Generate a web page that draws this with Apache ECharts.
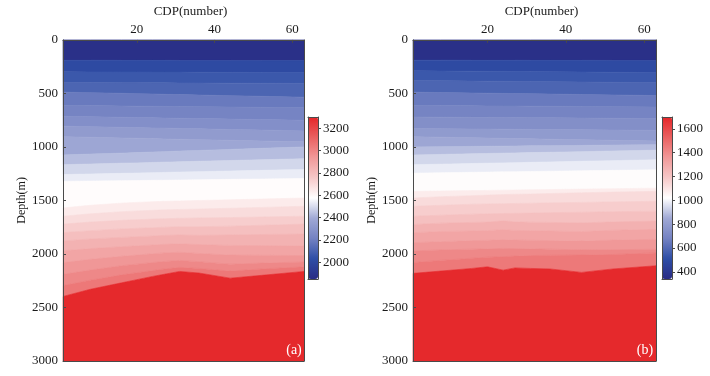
<!DOCTYPE html>
<html>
<head>
<meta charset="utf-8">
<script src="https://cdn.jsdelivr.net/npm/echarts@6/dist/echarts.min.js"></script>
<style>
html,body{margin:0;padding:0;background:#fff}
#main{width:710px;height:376px}
</style>
</head>
<body>
<div id="main"></div>
<script>
// CDP control points where band boundaries are read
var cdp = [1, 8, 16, 20, 24, 27, 31, 36, 44, 52, 63];
var xTicks = [20, 40, 60];
var cbTicksA = [2000, 2200, 2400, 2600, 2800, 3000, 3200];
var cbTicksB = [400, 600, 800, 1000, 1200, 1400, 1600];
var rangeA = [1850, 3300];
var rangeB = [340, 1700];

// band values, shallow -> deep
var valuesA = [1870, 2010, 2065, 2110, 2185, 2220, 2275, 2330, 2380, 2435, 2490, 2535, 2585,
               2640, 2690, 2740, 2790, 2840, 2890, 2940, 2990, 3040, 3290];
var valuesB = [360, 490, 542, 584, 654, 687, 738, 790, 837, 889, 940, 982, 1030,
               1080, 1130, 1175, 1220, 1270, 1315, 1360, 1410, 1455, 1690];

// boundary depths (m) between bands, at each cdp control point
var boundsA = [
  [190, 190, 191, 191, 191, 191, 192, 192, 192, 193, 193],
  [298, 299, 300, 300, 301, 301, 301, 302, 303, 304, 305],
  [398, 399, 400, 400, 401, 401, 402, 403, 404, 405, 406],
  [488, 493, 499, 502, 505, 508, 511, 515, 521, 527, 535],
  [612, 614, 617, 619, 620, 621, 623, 624, 627, 630, 634],
  [714, 718, 723, 725, 728, 730, 732, 735, 740, 744, 751],
  [806, 811, 817, 819, 822, 824, 827, 831, 837, 842, 850],
  [905, 910, 916, 919, 922, 925, 928, 932, 938, 944, 952],
  [1075, 1067, 1058, 1053, 1048, 1044, 1039, 1033, 1023, 1013, 1000],
  [1166, 1160, 1152, 1149, 1145, 1142, 1139, 1134, 1127, 1120, 1110],
  [1258, 1253, 1247, 1244, 1241, 1238, 1235, 1231, 1225, 1219, 1211],
  [1322, 1319, 1315, 1314, 1312, 1311, 1309, 1307, 1303, 1300, 1295],
  [1570, 1545, 1525, 1518, 1512, 1508, 1505, 1500, 1494, 1487, 1477],
  [1647, 1625, 1605, 1598, 1592, 1588, 1584, 1580, 1573, 1565, 1554],
  [1721, 1702, 1686, 1680, 1674, 1670, 1667, 1663, 1660, 1654, 1647],
  [1800, 1782, 1766, 1760, 1755, 1750, 1745, 1745, 1740, 1732, 1721],
  [1878, 1860, 1845, 1838, 1832, 1826, 1822, 1826, 1822, 1818, 1814],
  [1970, 1950, 1932, 1924, 1916, 1910, 1905, 1912, 1920, 1922, 1924],
  [2080, 2050, 2022, 2010, 1998, 1990, 1984, 1995, 2010, 2012, 2015],
  [2190, 2150, 2110, 2095, 2080, 2070, 2060, 2072, 2095, 2085, 2075],
  [2295, 2245, 2195, 2175, 2155, 2140, 2125, 2135, 2160, 2140, 2120],
  [2397, 2330, 2270, 2240, 2210, 2190, 2163, 2178, 2226, 2200, 2163]
];
var boundsB = [
  [189, 189, 190, 190, 190, 190, 191, 191, 191, 192, 192],
  [288, 290, 292, 293, 294, 295, 296, 297, 299, 302, 305],
  [380, 382, 385, 386, 387, 388, 389, 391, 393, 396, 399],
  [488, 492, 496, 498, 500, 501, 503, 506, 510, 514, 520],
  [612, 614, 616, 617, 618, 618, 619, 620, 622, 624, 627],
  [720, 722, 724, 724, 725, 726, 727, 728, 730, 732, 735],
  [828, 830, 832, 833, 834, 835, 836, 838, 840, 842, 845],
  [905, 909, 914, 917, 920, 922, 924, 928, 933, 938, 945],
  [1000, 998, 995, 994, 993, 992, 990, 989, 986, 983, 980],
  [1075, 1070, 1064, 1061, 1058, 1056, 1053, 1050, 1044, 1038, 1030],
  [1166, 1161, 1155, 1152, 1149, 1147, 1144, 1140, 1134, 1128, 1120],
  [1245, 1241, 1237, 1235, 1233, 1232, 1230, 1227, 1223, 1219, 1214],
  [1415, 1412, 1408, 1406, 1404, 1402, 1400, 1398, 1394, 1390, 1385],
  [1477, 1465, 1455, 1450, 1445, 1442, 1440, 1435, 1428, 1422, 1415],
  [1554, 1545, 1535, 1532, 1530, 1528, 1526, 1522, 1518, 1513, 1508],
  [1647, 1638, 1628, 1625, 1622, 1620, 1618, 1614, 1610, 1605, 1600],
  [1724, 1712, 1705, 1702, 1690, 1700, 1703, 1705, 1710, 1700, 1693],
  [1801, 1790, 1785, 1782, 1772, 1780, 1782, 1785, 1790, 1778, 1770],
  [1894, 1885, 1875, 1872, 1866, 1870, 1872, 1875, 1880, 1870, 1863],
  [1971, 1962, 1955, 1952, 1948, 1950, 1952, 1955, 1962, 1960, 1956],
  [2080, 2060, 2040, 2030, 2025, 2020, 2015, 2012, 2010, 2005, 1990],
  [2181, 2160, 2135, 2120, 2151, 2130, 2135, 2140, 2172, 2140, 2110]
];

var cmap = ['#2a2c84', '#2e4ea6', '#7482c2', '#a0a9d5', '#ffffff',
            '#f6c8c8', '#f09898', '#ea6060', '#e52629'];

var font = 'Liberation Serif';
var txt = '#1a1a1a';
var frame = '#4a4a4a';
var plain = function (v) { return String(v); };

var bandSeries = function (values, bounds, idx) {
  return {
    type: 'custom',
    coordinateSystem: 'cartesian2d',
    xAxisIndex: idx,
    yAxisIndex: idx,
    encode: {x: 0, y: 1},
    silent: true,
    z: 2,
    data: values.map(function (v, i) { return [i, v]; }),
    renderItem: function (params, api) {
      var i = api.value(0);
      var top = i === 0 ? null : bounds[i - 1];
      var bot = i === bounds.length ? null : bounds[i];
      var pts = [];
      for (var k = 0; k < cdp.length; k++) {
        pts.push(api.coord([cdp[k], top ? top[k] : 0]));
      }
      for (var k = cdp.length - 1; k >= 0; k--) {
        pts.push(api.coord([cdp[k], bot ? bot[k] : 3000]));
      }
      var c = api.visual('color');
      return {type: 'polygon', shape: {points: pts}, style: {fill: c, stroke: c, lineWidth: 0.6}};
    }
  };
};

var lineOnly = function (pos, gridIdx, extra) {
  var o = {
    type: 'value', gridIndex: gridIdx, position: pos, z: 10,
    min: 0, max: 1,
    axisLine: {show: true, onZero: false, lineStyle: {color: frame, width: 1}},
    axisTick: {show: false}, axisLabel: {show: false}, splitLine: {show: false}
  };
  for (var key in extra) o[key] = extra[key];
  return o;
};

var grids = [
  {left: 63, top: 37, width: 241, height: 324},
  {left: 413, top: 37, width: 243, height: 324},
  {left: 308, top: 117, width: 10, height: 162},
  {left: 662, top: 117, width: 10, height: 162}
];

var xAxes = [];
var yAxes = [];
[0, 1].forEach(function (g) {
  xAxes.push({
    type: 'value', gridIndex: g, position: 'top', min: 1, max: 63, z: 10,
    name: 'CDP(number)', nameLocation: 'middle', nameGap: 19,
    nameTextStyle: {fontFamily: font, fontSize: 13, color: txt, padding: [0, 0, 0, 14]},
    axisLine: {show: true, onZero: false, lineStyle: {color: frame}},
    axisTick: {show: true, inside: true, length: 3, customValues: xTicks, lineStyle: {color: frame}},
    axisLabel: {customValues: xTicks, margin: 4, fontFamily: font, fontSize: 13, color: txt, formatter: plain},
    splitLine: {show: false}
  });
  yAxes.push({
    type: 'value', gridIndex: g, position: 'left', min: 0, max: 3000, interval: 500, inverse: true, z: 10,
    name: 'Depth(m)', nameLocation: 'middle', nameGap: 31,
    nameTextStyle: {fontFamily: font, fontSize: 12, color: txt},
    axisLine: {show: true, onZero: false, lineStyle: {color: frame}},
    axisTick: {show: true, inside: true, length: 3, lineStyle: {color: frame}},
    axisLabel: {margin: 5, fontFamily: font, fontSize: 13, color: txt, formatter: plain},
    splitLine: {show: false}
  });
});
[0, 1].forEach(function (g) {
  xAxes.push(lineOnly('bottom', g, {min: 1, max: 63}));
  yAxes.push(lineOnly('right', g, {min: 0, max: 3000, inverse: true}));
});
[2, 3].forEach(function (g) {
  var r = g === 2 ? rangeA : rangeB;
  var t = g === 2 ? cbTicksA : cbTicksB;
  xAxes.push(lineOnly('top', g, {}));
  xAxes.push(lineOnly('bottom', g, {}));
  yAxes.push(lineOnly('left', g, {min: r[0], max: r[1]}));
  yAxes.push({
    type: 'value', gridIndex: g, position: 'right', min: r[0], max: r[1], z: 10,
    axisLine: {show: true, onZero: false, lineStyle: {color: frame}},
    axisTick: {show: true, length: 3, customValues: t, lineStyle: {color: frame}},
    axisLabel: {customValues: t, margin: 5, fontFamily: font, fontSize: 13, color: txt, formatter: plain},
    splitLine: {show: false}
  });
});

var chart = echarts.init(document.getElementById('main'));
chart.setOption({
  animation: false,
  backgroundColor: '#fff',
  grid: grids,
  xAxis: xAxes,
  yAxis: yAxes,
  visualMap: [
    {type: 'continuous', seriesIndex: 0, dimension: 1, min: rangeA[0], max: rangeA[1],
     inRange: {color: cmap}, left: 308, top: 117, itemWidth: 10, itemHeight: 162,
     padding: 0, calculable: false, hoverLink: false},
    {type: 'continuous', seriesIndex: 1, dimension: 1, min: rangeB[0], max: rangeB[1],
     inRange: {color: cmap}, left: 662, top: 117, itemWidth: 10, itemHeight: 162,
     padding: 0, calculable: false, hoverLink: false}
  ],
  graphic: [
    {type: 'text', x: 294, y: 350, z: 20,
     style: {text: '(a)', fill: '#fff', font: '14px "Liberation Serif"', align: 'center', verticalAlign: 'middle'}},
    {type: 'text', x: 645, y: 350, z: 20,
     style: {text: '(b)', fill: '#fff', font: '14px "Liberation Serif"', align: 'center', verticalAlign: 'middle'}}
  ],
  series: [
    bandSeries(valuesA, boundsA, 0),
    bandSeries(valuesB, boundsB, 1)
  ]
});
</script>
</body>
</html>
